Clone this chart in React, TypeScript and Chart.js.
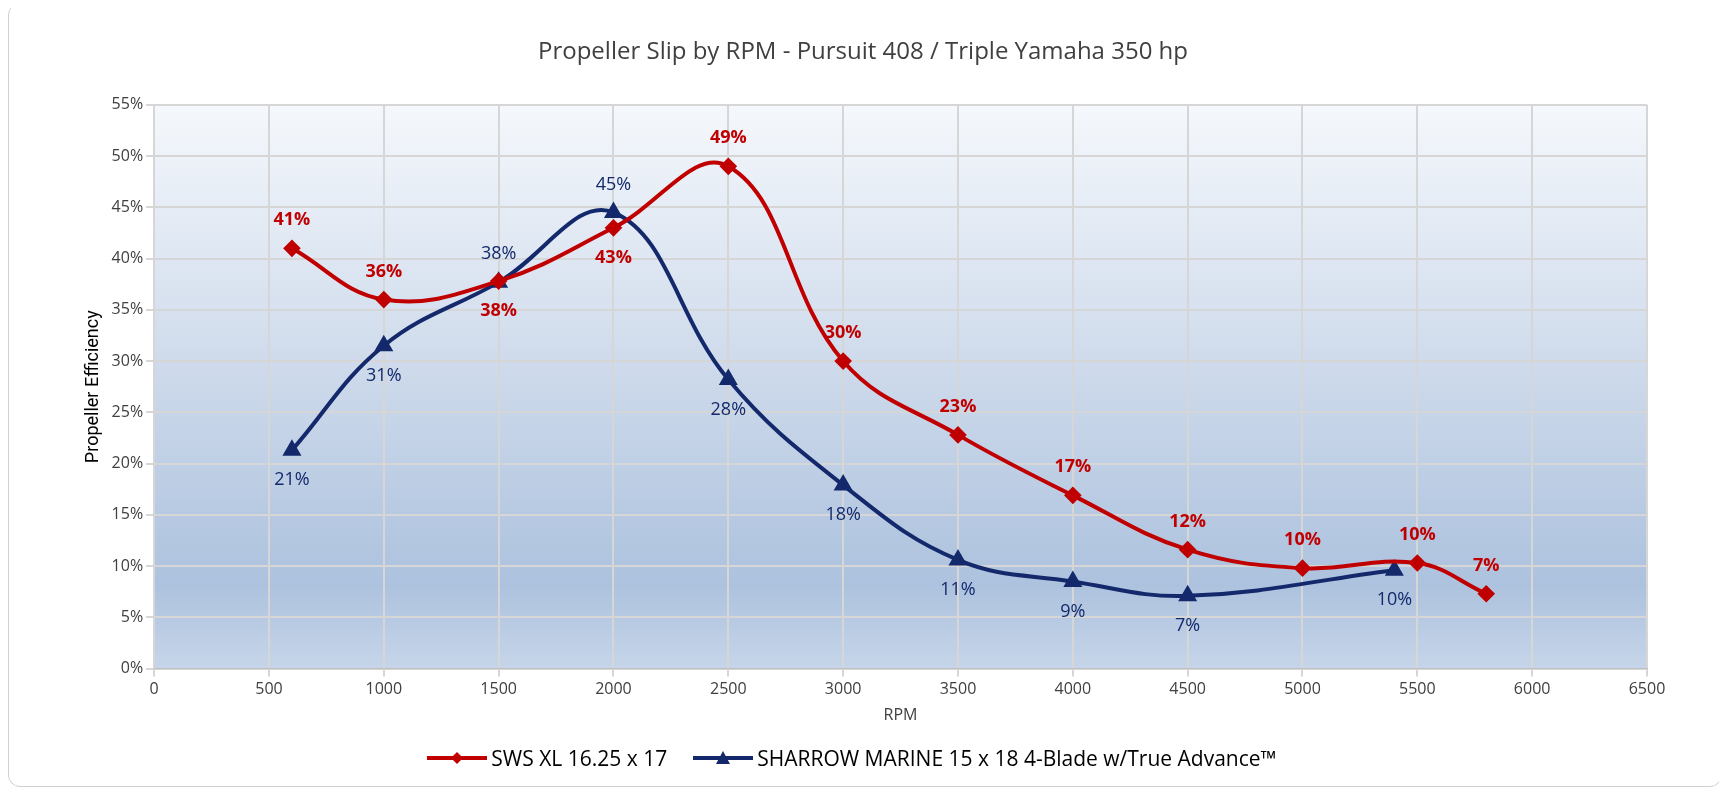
import React, { useEffect, useRef } from "react";
import { Chart, registerables } from "chart.js";
Chart.register(...registerables);

const redRpm = [600, 1000, 1500, 2000, 2500, 3000, 3500, 4000, 4500, 5000, 5500, 5800];
const redSlip = [41, 36, 37.8, 43, 49, 30, 22.8, 16.9, 11.6, 9.8, 10.3, 7.3];
const redLabels = ["41%", "36%", "38%", "43%", "49%", "30%", "23%", "17%", "12%", "10%", "10%", "7%"];
const blueRpm = [600, 1000, 1500, 2000, 2500, 3000, 3500, 4000, 4500, 5400];
const blueSlip = [21.3, 31.5, 37.7, 44.5, 28.2, 17.9, 10.6, 8.5, 7.1, 9.6];
const blueLabels = ["21%", "31%", "38%", "45%", "28%", "18%", "11%", "9%", "7%", "10%"];
const redName = "SWS XL 16.25 x 17";
const blueName = "SHARROW MARINE 15 x 18 4-Blade w/True Advance\u2122";
const RED = "#c00000";
const BLUE = "#13296b";

const bgPlugin = {
  id: "bg",
  beforeDraw(chart: any) {
    const { ctx, chartArea: a } = chart;
    const g = ctx.createLinearGradient(0, a.top, 0, a.bottom);
    g.addColorStop(0, "#f5f8fc");
    g.addColorStop(0.5, "#cbd8ea");
    g.addColorStop(0.85, "#adc2de");
    g.addColorStop(1, "#c6d5e9");
    ctx.save();
    ctx.fillStyle = g;
    ctx.fillRect(a.left, a.top, a.right - a.left, a.bottom - a.top);
    ctx.restore();
  },
};

const labelPlugin = {
  id: "lbls",
  afterDatasetsDraw(chart: any) {
    const ctx = chart.ctx;
    ctx.save();
    ctx.textAlign = "center";
    ctx.textBaseline = "middle";
    chart.data.datasets.forEach((ds: any, i: number) => {
      const meta = chart.getDatasetMeta(i);
      meta.data.forEach((pt: any, j: number) => {
        const isRed = i === 0;
        const x = ds.data[j].x;
        const below = isRed ? (x === 1500 || x === 2000) : !(x === 1500 || x === 2000);
        ctx.font = isRed ? "bold 18px 'Open Sans', sans-serif" : "18px 'Open Sans', sans-serif";
        ctx.fillStyle = isRed ? RED : BLUE;
        ctx.fillText(ds.labels[j], pt.x, pt.y + (below ? 30 : -28));
      });
    });
    ctx.restore();
  },
};

export default function App() {
  const ref = useRef<HTMLCanvasElement>(null);
  useEffect(() => {
    const c = new Chart(ref.current!, {
      type: "line",
      data: {
        datasets: [
          {
            label: redName,
            data: redRpm.map((x, i) => ({ x, y: redSlip[i] })),
            labels: redLabels,
            borderColor: RED,
            backgroundColor: RED,
            borderWidth: 4,
            pointStyle: "rectRot",
            pointRadius: 6,
            tension: 0.4,
          } as any,
          {
            label: blueName,
            data: blueRpm.map((x, i) => ({ x, y: blueSlip[i] })),
            labels: blueLabels,
            borderColor: BLUE,
            backgroundColor: BLUE,
            borderWidth: 4,
            pointStyle: "triangle",
            pointRadius: 7,
            tension: 0.4,
          } as any,
        ],
      },
      options: {
        animation: false,
        responsive: true,
        maintainAspectRatio: false,
        layout: { padding: { left: 70, right: 74, top: 10, bottom: 57 } },
        plugins: {
          legend: { display: false },
          tooltip: { enabled: false },
          title: {
            display: true,
            text: "Propeller Slip by RPM - Pursuit 408 / Triple Yamaha 350 hp",
            color: "#404040",
            font: { size: 24, family: "'Open Sans', sans-serif", weight: "normal" },
            padding: { top: 24, bottom: 38 },
          },
        },
        scales: {
          x: {
            type: "linear",
            min: 0,
            max: 6500,
            ticks: { stepSize: 500, color: "#404040", callback: (v: any) => String(v), font: { size: 16, family: "'Open Sans', sans-serif" } },
            grid: { color: "#d6d6d6", lineWidth: 2 },
            border: { color: "#bfbfbf" },
            title: { display: true, text: "RPM", color: "#404040", font: { size: 16, family: "'Open Sans', sans-serif" } },
          },
          y: {
            min: 0,
            max: 55,
            ticks: { stepSize: 5, color: "#404040", callback: (v: any) => v + "%", font: { size: 16, family: "'Open Sans', sans-serif" } },
            grid: { color: "#d6d6d6", lineWidth: 2 },
            border: { display: false },
            title: { display: true, text: "Propeller Efficiency", color: "#000", font: { size: 18, family: "'Liberation Sans Narrow', 'Roboto', sans-serif" } },
          },
        },
      },
      plugins: [bgPlugin, labelPlugin],
    });
    return () => c.destroy();
  }, []);

  const legendItem = (color: string, tri: boolean, text: string) => (
    <span style={{ display: "inline-flex", alignItems: "center", marginRight: 26 }}>
      <svg width="60" height="16" style={{ marginRight: 4 }}>
        <line x1="0" y1="8" x2="60" y2="8" stroke={color} strokeWidth="4" />
        {tri ? <polygon points="30,1 37,14 23,14" fill={color} /> : <polygon points="30,2 36,8 30,14 24,8" fill={color} />}
      </svg>
      {text}
    </span>
  );

  return (
    <div style={{ position: "relative", width: 1712, height: 782, border: "1px solid #d0d0d0", borderRadius: 12, background: "#fff", fontFamily: "'Open Sans', sans-serif", marginTop: -5 }}>
      <canvas ref={ref} />
      <div style={{ position: "absolute", left: 0, right: 0, top: 740, textAlign: "center", fontSize: 21, color: "#000" }}>
        {legendItem(RED, false, redName)}
        {legendItem(BLUE, true, blueName)}
      </div>
    </div>
  );
}
